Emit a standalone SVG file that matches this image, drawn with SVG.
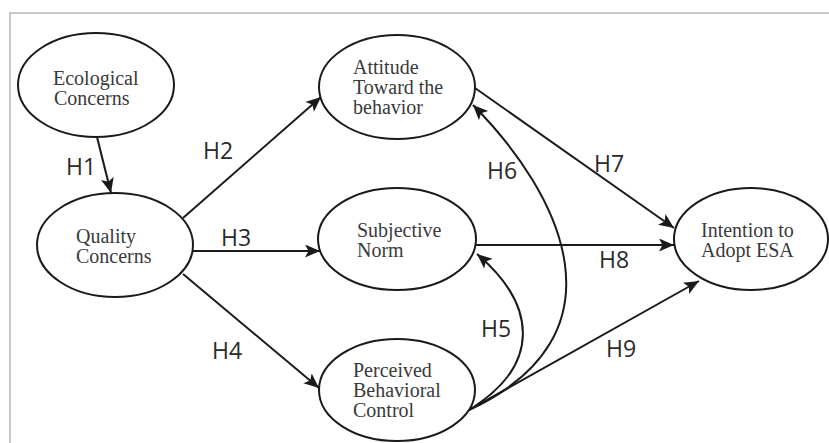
<svg xmlns="http://www.w3.org/2000/svg" width="829" height="443" viewBox="0 0 829 443">
<defs>
<style>
.node ellipse{fill:#fff;stroke:#1a1a1a;stroke-width:2}
.node text{font-family:"Liberation Serif","DejaVu Serif",serif;font-size:20px;fill:#3a3a3a}
.edge{fill:none;stroke:#1a1a1a;stroke-width:2}
.lbl{font-family:"Open Sans","Liberation Sans",sans-serif;font-size:23px;fill:#2a2a2a}
.frame{stroke:#c8c8c8;stroke-width:2;fill:none}
</style>
<marker id="arr" markerUnits="userSpaceOnUse" markerWidth="16" markerHeight="14" refX="15" refY="6.5" orient="auto">
<path d="M0,0 L15,6.5 L0,13 L3.5,6.5 Z" fill="#1a1a1a"/>
</marker>
</defs>
<rect width="829" height="443" fill="#fff"/>
<path class="frame" d="M10,443 V13 H829"/>

<g id="connectors">
<line class="edge" x1="97" y1="137" x2="111" y2="193" marker-end="url(#arr)"/>
<line class="edge" x1="183" y1="218" x2="321" y2="97" marker-end="url(#arr)"/>
<line class="edge" x1="193" y1="251" x2="320" y2="251" marker-end="url(#arr)"/>
<line class="edge" x1="183" y1="274" x2="319" y2="388" marker-end="url(#arr)"/>
<path class="edge" d="M469,410 C542,365 537,305 477,254" marker-end="url(#arr)"/>
<path class="edge" d="M469,410 C630,335 562,195 473,105" marker-end="url(#arr)"/>
<line class="edge" x1="475" y1="88" x2="674" y2="228" marker-end="url(#arr)"/>
<line class="edge" x1="476" y1="245" x2="674" y2="245" marker-end="url(#arr)"/>
<line class="edge" x1="469" y1="410" x2="699" y2="281" marker-end="url(#arr)"/>
<text class="lbl" x="66" y="175">H1</text>
<text class="lbl" x="203" y="159">H2</text>
<text class="lbl" x="221" y="246">H3</text>
<text class="lbl" x="212" y="359">H4</text>
<text class="lbl" x="481" y="337">H5</text>
<text class="lbl" x="487" y="179">H6</text>
<text class="lbl" x="594" y="172">H7</text>
<text class="lbl" x="599" y="268">H8</text>
<text class="lbl" x="606" y="357">H9</text>
</g>

<g id="ecological" class="node">
<ellipse cx="96" cy="85" rx="78" ry="52"/>
<text x="53" y="85">Ecological</text>
<text x="54" y="105">Concerns</text>
</g>
<g id="quality" class="node">
<ellipse cx="115" cy="245" rx="78" ry="52"/>
<text x="76" y="243">Quality</text>
<text x="76" y="263">Concerns</text>
</g>
<g id="attitude" class="node">
<ellipse cx="397" cy="87" rx="78" ry="52"/>
<text x="353" y="74">Attitude</text>
<text x="353" y="94">Toward the</text>
<text x="353" y="114">behavior</text>
</g>
<g id="subjective" class="node">
<ellipse cx="397" cy="239" rx="79" ry="51"/>
<text x="357" y="237">Subjective</text>
<text x="357" y="257">Norm</text>
</g>
<g id="perceived" class="node">
<ellipse cx="397" cy="390" rx="78" ry="51"/>
<text x="353" y="377">Perceived</text>
<text x="353" y="397">Behavioral</text>
<text x="353" y="417">Control</text>
</g>
<g id="intention" class="node">
<ellipse cx="751" cy="239" rx="77" ry="51"/>
<text x="701" y="237">Intention to</text>
<text x="701" y="257">Adopt ESA</text>
</g>
</svg>
